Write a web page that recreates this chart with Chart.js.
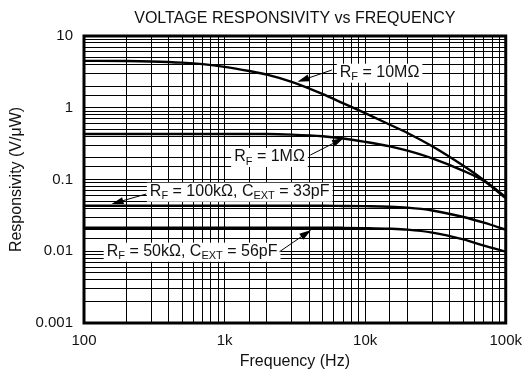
<!DOCTYPE html>
<html><head><meta charset="utf-8">
<script src="https://cdn.jsdelivr.net/npm/chart.js@4.4.1/dist/chart.umd.min.js"></script>
<style>html,body{margin:0;padding:0;background:#fff;}#wrap{width:531px;height:378px;}</style>
</head><body><div id="wrap"><canvas id="c" width="531" height="378"></canvas></div>
<script>
// ---- data ----
const frequencies = [100,200,300,500,700,1000,1500,2000,3000,5000,7000,10000,15000,20000,30000,50000,70000,100000];
const rf10M   = [4.5,4.48,4.42,4.25,4.05,3.72,3.25,2.9,2.3,1.55,1.15,0.84,0.58,0.445,0.29,0.155,0.098,0.057];
const rf1M    = [0.43,0.43,0.43,0.43,0.43,0.43,0.43,0.43,0.422,0.40,0.372,0.335,0.29,0.252,0.197,0.132,0.095,0.055];
const rf100k  = [0.043,0.043,0.043,0.043,0.043,0.043,0.043,0.043,0.043,0.043,0.0428,0.0425,0.0418,0.0405,0.037,0.030,0.025,0.020];
const rf50k   = [0.0213,0.0213,0.0213,0.0213,0.0213,0.0213,0.0213,0.0213,0.0213,0.0213,0.0212,0.021,0.0206,0.020,0.0182,0.0146,0.012,0.0099];
const xTickValues = [100,1000,10000,100000];
const xTickLabels = ['100','1k','10k','100k'];
const yTickValues = [10,1,0.1,0.01,0.001];
const yTickLabels = ['10','1','0.1','0.01','0.001'];
const titleText = 'VOLTAGE RESPONSIVITY vs FREQUENCY';
const xTitle = 'Frequency (Hz)';
const yTitle = 'Responsivity (V/\u03BCW)';
// curve labels: text parts [string, isSubscript]; anchors in data coordinates
const labelParts = [
  [['R',0],['F',1],[' = 10M\u03A9',0]],
  [['R',0],['F',1],[' = 1M\u03A9',0]],
  [['R',0],['F',1],[' = 100k\u03A9, C',0],['EXT',1],[' = 33pF',0]],
  [['R',0],['F',1],[' = 50k\u03A9, C',0],['EXT',1],[' = 56pF',0]]
];
const labelAnchors = [[6600,3.08],[1170,0.206],[294,0.0676],[145,0.00986]];
const arrowTails   = [[5800,3.36],[4070,0.219],[277,0.0628],[2460,0.00986]];
const arrowTips    = [[3300,2.3],[7050,0.379],[157,0.0456],[4130,0.0198]];

const FONT = '"Liberation Sans", Arial, sans-serif';
const TXT = '#111';

function findLabel(v, vals, labs){
  for (let i=0;i<vals.length;i++){ if (Math.abs(Math.log10(v)-Math.log10(vals[i]))<1e-6) return labs[i]; }
  return '';
}

const deco = {
  id:'deco',
  beforeDraw(chart){ const c=chart.ctx; c.save(); c.fillStyle='#fff'; c.fillRect(0,0,chart.width,chart.height); c.restore(); },
  afterDatasetsDraw(chart){
    const {ctx, chartArea:a, scales} = chart;
    const x = scales.x, y = scales.y;
    ctx.save();
    ctx.strokeStyle='#000'; ctx.lineWidth=3;
    ctx.strokeRect(a.left, a.top, a.right-a.left, a.bottom-a.top);
    for (let i=0;i<labelParts.length;i++){
      const parts = labelParts[i];
      const tx = x.getPixelForValue(labelAnchors[i][0]);
      const ty = y.getPixelForValue(labelAnchors[i][1]);
      let w = 0;
      const widths = parts.map(p=>{ ctx.font = (p[1]? '11px ':'16px ')+FONT; const m = ctx.measureText(p[0]).width; w+=m; return m; });
      ctx.fillStyle='#fff';
      ctx.fillRect(tx-3, ty-9, w+6, 19);
      ctx.fillStyle=TXT; ctx.textAlign='left'; ctx.textBaseline='middle';
      let cx = tx;
      parts.forEach((p,k)=>{ ctx.font=(p[1]? '11px ':'16px ')+FONT; ctx.fillText(p[0], cx, ty + (p[1]?4.5:0)); cx+=widths[k]; });
      const x0 = x.getPixelForValue(arrowTails[i][0]), y0 = y.getPixelForValue(arrowTails[i][1]);
      const x1 = x.getPixelForValue(arrowTips[i][0]),  y1 = y.getPixelForValue(arrowTips[i][1]);
      const ang = Math.atan2(y1-y0, x1-x0);
      const L = 12, H = 3.5;
      ctx.strokeStyle='#000'; ctx.lineWidth=1;
      ctx.beginPath(); ctx.moveTo(x0,y0); ctx.lineTo(x1 - Math.cos(ang)*L*0.8, y1 - Math.sin(ang)*L*0.8); ctx.stroke();
      ctx.fillStyle='#000';
      ctx.beginPath();
      ctx.moveTo(x1,y1);
      ctx.lineTo(x1 - Math.cos(ang)*L - Math.sin(ang)*H, y1 - Math.sin(ang)*L + Math.cos(ang)*H);
      ctx.lineTo(x1 - Math.cos(ang)*L + Math.sin(ang)*H, y1 - Math.sin(ang)*L - Math.cos(ang)*H);
      ctx.closePath(); ctx.fill();
    }
    ctx.fillStyle=TXT; ctx.font='16px '+FONT; ctx.textAlign='center'; ctx.textBaseline='middle';
    ctx.fillText(titleText, (a.left+a.right)/2, 19);
    ctx.fillText(xTitle, (a.left+a.right)/2, 362);
    ctx.translate(16.5, (a.top+a.bottom)/2); ctx.rotate(-Math.PI/2); ctx.fillText(yTitle,0,0);
    ctx.restore();
  }
};

const mk = (d)=>({data: frequencies.map((f,i)=>({x:f,y:d[i]})), borderColor:'#000', borderWidth:2.4, pointRadius:0, fill:false, cubicInterpolationMode:'monotone'});

new Chart(document.getElementById('c'), {
  type:'line',
  data:{datasets:[mk(rf10M), mk(rf1M), mk(rf100k), mk(rf50k)]},
  options:{
    responsive:false, animation:false, devicePixelRatio:1,
    layout:{padding:{top:36,right:20,left:0,bottom:0}},
    plugins:{legend:{display:false}, title:{display:false}, tooltip:{enabled:false}},
    scales:{
      x:{type:'logarithmic', min:100, max:100000,
         afterFit(s){ s.height = 55; },
         grid:{color:'#000', lineWidth:1, drawTicks:false},
         border:{display:false},
         ticks:{autoSkip:false, maxRotation:0, padding:9, color:TXT, font:{family:FONT, size:15},
                callback:(v)=>findLabel(v,xTickValues,xTickLabels)}},
      y:{type:'logarithmic', min:0.001, max:10,
         afterFit(s){ s.width = 84; },
         grid:{color:'#000', lineWidth:1, drawTicks:false},
         border:{display:false},
         ticks:{autoSkip:false, padding:11, color:TXT, font:{family:FONT, size:15},
                callback:(v)=>findLabel(v,yTickValues,yTickLabels)}}
    }
  },
  plugins:[deco]
});
</script></body></html>
